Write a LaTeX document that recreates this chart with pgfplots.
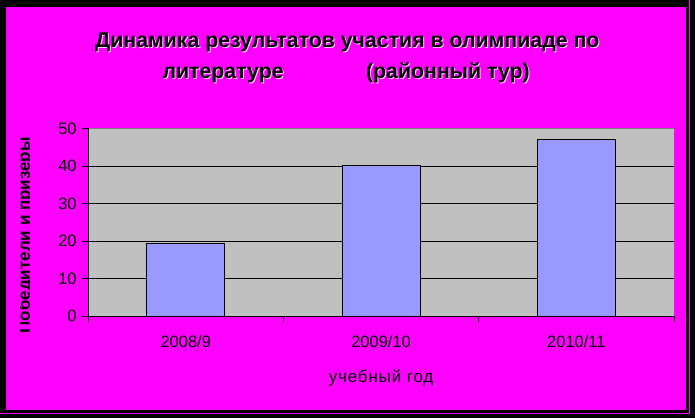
\documentclass[border=0pt]{standalone}
\usepackage{pgfplots}
\pgfplotsset{compat=1.18}
\usepackage{fontspec}
\setmainfont{Liberation Sans}
\definecolor{bg}{HTML}{FF00FF}
\definecolor{plotbg}{HTML}{C0C0C0}
\definecolor{barblue}{HTML}{9999FF}
\definecolor{frame}{HTML}{808080}
\newcommand{\ttl}[1]{\fontsize{21.3}{25}\selectfont\bfseries #1}
\begin{document}
\begin{tikzpicture}[x=1pt,y=1pt]
% background and frame
\fill[black] (0,0) rectangle (695,418);
\fill[bg] (6,8) rectangle (686,411);
\draw[bg,line width=1pt] (0,5) -- (689,5) -- (689,418);
% title with light shadow
\foreach \dx/\dy/\c in {1/-1/white!80!bg, 0/0/black}{
  \node[anchor=base,text=\c,inner sep=0] at (347+\dx,371.3+\dy) {\ttl{Динамика результатов участия в олимпиаде по}};
  \node[anchor=base west,text=\c,inner sep=0] at (162+\dx,340+\dy) {\ttl{литературе}};
  \node[anchor=base west,text=\c,inner sep=0] at (365.7+\dx,340+\dy) {\ttl{(районный тур)}};
}
\begin{axis}[
  at={(87.7pt,102pt)}, anchor=south west,
  scale only axis, width=586.3pt, height=188pt,
  xmin=-0.5, xmax=2.5, ymin=0, ymax=50,
  axis background/.style={fill=plotbg},
  axis line style={draw=none},
  ytick={0,10,...,50}, ytick pos=left,
  xtick={-0.5,0.5,1.5,2.5}, xticklabels={}, xtick pos=bottom,
  extra x ticks={0,1,2},
  extra x tick labels={2008/9,2009/10,2010/11},
  extra x tick style={major tick length=0pt, tick label style={yshift=-16pt}},
  tick align=outside, major tick length=6pt,
  tick style={black, line width=0.8pt},
  ticklabel style={font=\fontsize{16.5}{19}\selectfont},
  yticklabel style={xshift=-2pt},
  /pgf/number format/assume math mode=true,
  ymajorgrids, grid style={black, line width=0.9pt},
  ybar, bar width=78pt,
  xlabel={\addfontfeature{LetterSpace=5}учебный год},
  xlabel style={font=\fontsize{17}{20}\selectfont, at={(axis description cs:0.5,0)}, anchor=center, yshift=-62pt},
]
\addplot[fill=barblue, draw=black, line width=1pt] coordinates {(0,19.3) (1,40) (2,47)};
\draw[frame, line width=1pt] (rel axis cs:0,1) -- (rel axis cs:1,1) -- (rel axis cs:1,0);
\draw[black, line width=1pt] (rel axis cs:0,1) -- (rel axis cs:0,0) -- (rel axis cs:1,0);
\end{axis}
% clipped y label
\begin{scope}
\clip (20.5,0) rectangle (29,418);
\node[rotate=90,anchor=base,inner sep=0,font=\fontsize{17}{20}\selectfont\bfseries] at (29.5,183) {Победители и призеры};
\end{scope}
\end{tikzpicture}
\end{document}
